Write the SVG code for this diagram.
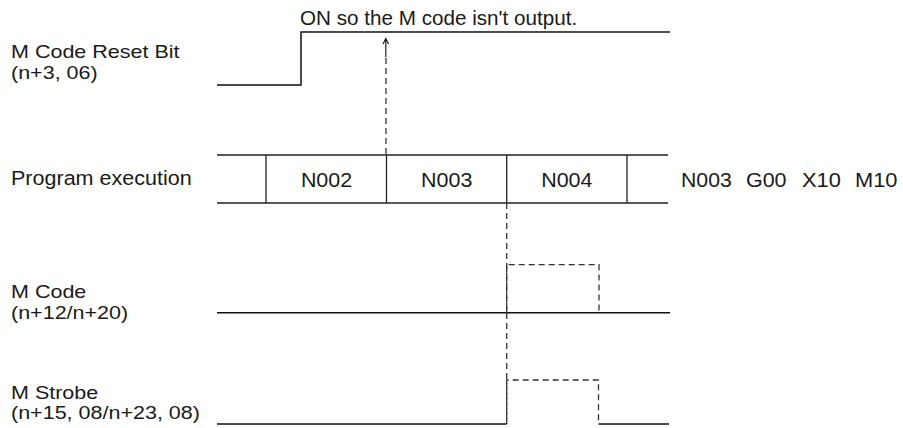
<svg xmlns="http://www.w3.org/2000/svg" width="903" height="428" viewBox="0 0 903 428">
<style>
text{font-family:"Liberation Sans",Arial,Helvetica,sans-serif;font-size:19.5px;fill:#1a1a1a}
.lbl{font-size:18px}
.c{text-anchor:middle}
.sig{fill:none;stroke:#111;stroke-width:1.5}
.row{fill:none;stroke:#222;stroke-width:1.3}
.dash{fill:none;stroke:#333;stroke-width:1.3;stroke-dasharray:6 4}
</style>
<g id="labels">
<g id="label-reset"><text class="lbl" transform="translate(11,58) scale(1.195,1)">M Code Reset Bit</text><text class="lbl" transform="translate(11,78.5) scale(1.195,1)">(n+3, 06)</text></g>
<g id="label-prog"><text transform="translate(11,185) scale(1.105,1)">Program execution</text></g>
<g id="label-mcode"><text class="lbl" transform="translate(11,298) scale(1.195,1)">M Code</text><text class="lbl" transform="translate(11,318.5) scale(1.195,1)">(n+12/n+20)</text></g>
<g id="label-strobe"><text class="lbl" transform="translate(11,398.5) scale(1.195,1)">M Strobe</text><text class="lbl" transform="translate(11,419) scale(1.195,1)">(n+15, 08/n+23, 08)</text></g>
<g id="note"><text transform="translate(300,25) scale(1.06,1)">ON so the M code isn't output.</text></g>
<g id="block-text"><text transform="translate(681,187) scale(1.09,1)">N003</text><text transform="translate(746,187) scale(1.1,1)">G00</text><text transform="translate(802,187) scale(1.12,1)">X10</text><text transform="translate(855,187) scale(1.12,1)">M10</text></g>
</g>
<g id="reset-signal"><path class="sig" d="M217,85 H301 V32 H670"/></g>
<g id="program-row">
<path class="row" d="M217,155 H668 M217,203 H668 M266,155 V203 M386.5,155 V203 M506.7,155 V203 M627,155 V203"/>
<g id="n002"><text class="c" transform="translate(326.5,187) scale(1.1,1)">N002</text></g>
<g id="n003"><text class="c" transform="translate(446.7,187) scale(1.1,1)">N003</text></g>
<g id="n004"><text class="c" transform="translate(566.8,187) scale(1.1,1)">N004</text></g>
</g>
<g id="mcode-signal"><path class="sig" d="M217,312.7 H670"/><path class="dash" d="M506.7,312.7 V264.7 H599 V312.7"/></g>
<g id="strobe-signal"><path class="sig" d="M217,424 H506.7 M598.5,424 H669"/><path class="dash" d="M506.7,424 V380 H598.5 V424"/></g>
<g id="connectors">
<path class="dash" d="M386,58 V155"/>
<path class="dash" d="M506.7,203 V424"/>
<path fill="none" stroke="#111" stroke-width="1.1" d="M385.8,57 V38.5 M383,44 L385.8,38.5 L388.6,44"/>
</g>
</svg>
